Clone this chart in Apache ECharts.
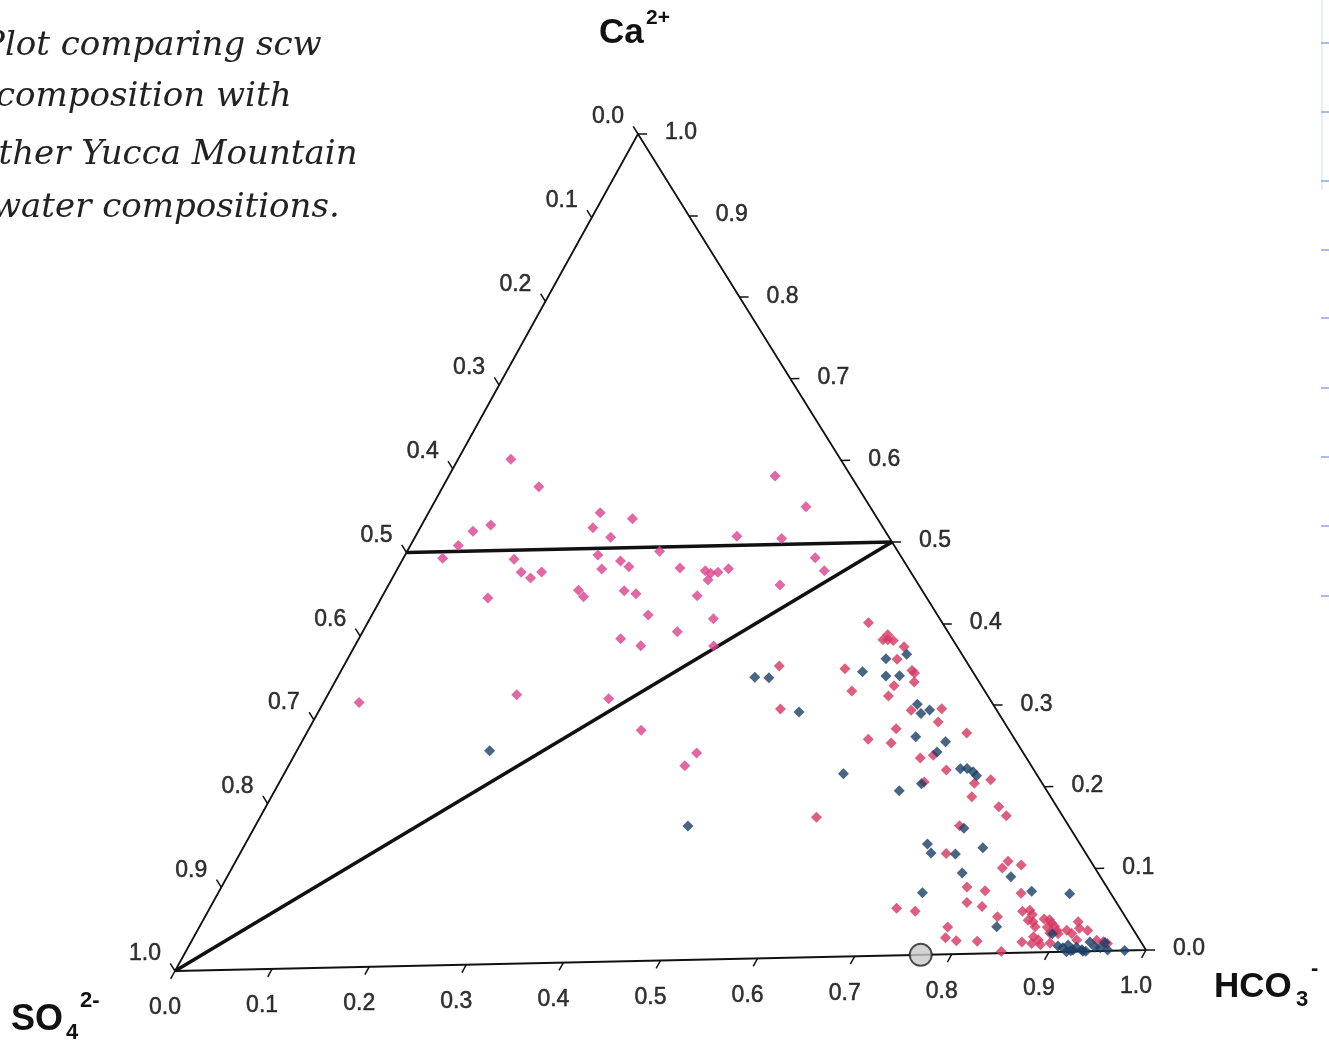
<!DOCTYPE html>
<html><head><meta charset="utf-8">
<script src="https://cdn.jsdelivr.net/npm/echarts@6/dist/echarts.min.js"></script>
<style>html,body{margin:0;padding:0;background:#fff;overflow:hidden}#c{width:1329px;height:1044px}</style>
</head><body><div id="c"></div>
<script>
// ---------- DATA (ternary fractions; SO4 = 1 - HCO3 - Ca) ----------
const tickValues = [0,0.1,0.2,0.3,0.4,0.5,0.6,0.7,0.8,0.9,1.0];
const tickLabels = ['0.0','0.1','0.2','0.3','0.4','0.5','0.6','0.7','0.8','0.9','1.0'];

// magenta samples (upper part of the diagram)
const magentaHCO3 = [0.055,0.100,0.340,0.390,0.179,0.216,0.180,0.204,0.072,0.057,0.050,0.041,0.116,0.131,0.144,0.152,0.201,0.213,0.228,0.240,0.263,0.335,0.383,0.294,0.322,0.329,0.336,0.345,0.330,0.429,0.446,0.408,0.111,0.201,0.210,0.249,0.263,0.328,0.288,0.358,0.328,0.273,0.298,0.374,0.037,0.197,0.295,0.347,0.418,0.413];
const magentaCa   = [0.610,0.576,0.583,0.545,0.543,0.535,0.525,0.513,0.531,0.524,0.507,0.492,0.489,0.473,0.466,0.473,0.492,0.475,0.484,0.477,0.495,0.511,0.507,0.474,0.470,0.467,0.468,0.472,0.459,0.483,0.467,0.451,0.443,0.450,0.442,0.448,0.444,0.440,0.418,0.412,0.397,0.390,0.381,0.379,0.320,0.325,0.318,0.279,0.250,0.235];

// crimson samples (HCO3-rich part)
const crimsonHCO3 = [0.454,0.480,0.580,0.522,0.549,0.547,0.558,0.552,0.573,0.573,0.524,0.595,0.599,0.604,0.585,0.544,0.585,0.617,0.648,0.652,0.612,0.589,0.615,0.688,0.666,0.654,0.688,0.725,0.740,0.672,0.730,0.764,0.777,0.734,0.736,0.805,0.803,0.821,0.777,0.798,0.837,0.716,0.737,0.786,0.804,0.826,0.780,0.784,0.797,0.819,0.850,0.866,0.849,0.856,0.861,0.860,0.866,0.871,0.876,0.882,0.886,0.891,0.884,0.896,0.890,0.899,0.906,0.913,0.913,0.918,0.928,0.875,0.882,0.877,0.887,0.896,0.922,0.943,0.951,0.956];
const crimsonCa   = [0.353,0.301,0.169,0.403,0.388,0.382,0.381,0.382,0.373,0.358,0.348,0.344,0.341,0.330,0.326,0.321,0.314,0.296,0.297,0.281,0.274,0.262,0.257,0.267,0.241,0.238,0.223,0.206,0.210,0.209,0.190,0.177,0.166,0.155,0.122,0.111,0.103,0.106,0.081,0.076,0.072,0.057,0.053,0.062,0.057,0.044,0.033,0.020,0.016,0.015,0.002,0.013,0.050,0.051,0.046,0.039,0.037,0.031,0.040,0.039,0.035,0.031,0.030,0.026,0.023,0.022,0.026,0.022,0.036,0.028,0.025,0.019,0.015,0.011,0.009,0.011,0.014,0.013,0.011,0.009];

// dark blue samples
const blueHCO3 = [0.201,0.451,0.435,0.450,0.501,0.544,0.561,0.580,0.571,0.585,0.620,0.629,0.636,0.637,0.671,0.668,0.702,0.709,0.717,0.723,0.583,0.670,0.651,0.740,0.711,0.720,0.746,0.771,0.764,0.817,0.734,0.847,0.888,0.831,0.893,0.906,0.912,0.916,0.924,0.926,0.933,0.938,0.937,0.945,0.951,0.953,0.960,0.918,0.935,0.978,0.922];
const blueCa   = [0.258,0.162,0.340,0.339,0.297,0.344,0.359,0.364,0.338,0.338,0.303,0.292,0.296,0.264,0.257,0.245,0.224,0.224,0.220,0.215,0.221,0.207,0.199,0.152,0.134,0.123,0.121,0.128,0.098,0.092,0.075,0.074,0.070,0.032,0.022,0.007,0.005,0.008,0.002,0.005,0.002,0.000,0.011,0.005,0.004,0.010,0.001,0.000,0.000,0.000,0.001];

// SCW composition (grey circle)
const scwHCO3 = [0.768];
const scwCa   = [0.000];

// reference lines
const caLineHCO3 = [0.0, 0.5];
const caLineCa   = [0.5, 0.5];
const diagHCO3   = [0.0, 0.5];
const diagCa     = [0.0, 0.5];

// ---------- LAYOUT ----------
const W = 1329, H = 1044;
const FRAME = { top:[638,134], left:[175,971], right:[1146,950] };  // triangle corners (scan is slightly rotated)
const TICK_LEN = 9;

function toXY(h, c) {
  const L = FRAME.left, R = FRAME.right, T = FRAME.top;
  return [L[0] + h*(R[0]-L[0]) + c*(T[0]-L[0]),
          L[1] + h*(R[1]-L[1]) + c*(T[1]-L[1])];
}
function unit(a, b) { const dx=b[0]-a[0], dy=b[1]-a[1], n=Math.hypot(dx,dy); return [dx/n, dy/n]; }
const dirBottom = unit(FRAME.top, FRAME.left);   // bottom-axis ticks: down-left
const dirLeft   = unit(FRAME.right, FRAME.top);  // left-axis ticks: up-left
const dirRight  = unit(FRAME.left, FRAME.right); // right-axis ticks: to the right

const ticks = [], labels = [];
tickValues.forEach((t, i) => {
  // bottom axis: HCO3 fraction
  let p = toXY(t, 0);
  ticks.push({coords:[p, [p[0]+TICK_LEN*dirBottom[0], p[1]+TICK_LEN*dirBottom[1]]]});
  labels.push({name: tickLabels[i], value:[p[0]-10, p[1]+37]});
  // left axis: SO4 fraction
  p = toXY(0, 1 - t);
  ticks.push({coords:[p, [p[0]+TICK_LEN*dirLeft[0], p[1]+TICK_LEN*dirLeft[1]]]});
  labels.push({name: tickLabels[i], value:[p[0]-30, p[1]-17]});
  // right axis: Ca fraction
  p = toXY(1 - t, t);
  ticks.push({coords:[p, [p[0]+TICK_LEN*dirRight[0], p[1]+TICK_LEN*dirRight[1]]]});
  labels.push({name: tickLabels[i], value:[p[0]+43, p[1]-1]});
});

const pts = (hs, cs) => hs.map((h, i) => toXY(h, cs[i]));

const chart = echarts.init(document.getElementById('c'), null, {renderer:'canvas'});
const sans = '"Liberation Sans", Arial, Helvetica, sans-serif';
const hand = '"DejaVu Serif", serif';

// faint notebook-paper marks at the right edge of the scan
const paperMarks = [43,112,181,250,318,388,457,526,596].map(y => ({
  type:'line', shape:{x1:1321, y1:y, x2:1329, y2:y}, style:{stroke:'#5d86e0', lineWidth:2, opacity:0.55}, silent:true
}));
paperMarks.push({type:'line', shape:{x1:1322, y1:0, x2:1322, y2:190}, style:{stroke:'#9fb4ea', lineWidth:1, opacity:0.5}, silent:true});

function txt(text, x, y, font, fill) {
  return {type:'text', x:x, y:y, silent:true,
          style:{text:text, font:font, fill:fill||'#111', align:'left', verticalAlign:'middle'}};
}

chart.setOption({
  animation:false,
  backgroundColor:'#ffffff',
  grid:{left:0, right:0, top:0, bottom:0},
  xAxis:{type:'value', min:0, max:W, show:false},
  yAxis:{type:'value', min:0, max:H, inverse:true, show:false},
  series:[
    {type:'line', name:'frame', data:[toXY(0,0), toXY(1,0), toXY(0,1), toXY(0,0)],
     symbol:'none', lineStyle:{color:'#111', width:1.8}, silent:true, z:2},
    {type:'lines', name:'ticks', coordinateSystem:'cartesian2d', data:ticks,
     lineStyle:{color:'#111', width:1.5, opacity:1}, silent:true, z:2},
    {type:'line', name:'Ca 0.5', data:pts(caLineHCO3, caLineCa),
     symbol:'none', lineStyle:{color:'#111', width:3.6}, silent:true, z:3},
    {type:'line', name:'diagonal', data:pts(diagHCO3, diagCa),
     symbol:'none', lineStyle:{color:'#111', width:3.6}, silent:true, z:3},
    {type:'scatter', name:'magenta', data:pts(magentaHCO3, magentaCa),
     symbol:'diamond', symbolSize:11, itemStyle:{color:'#d9428e'}, z:5},
    {type:'scatter', name:'crimson', data:pts(crimsonHCO3, crimsonCa),
     symbol:'diamond', symbolSize:11, itemStyle:{color:'#d63660'}, z:5},
    {type:'scatter', name:'blue', data:pts(blueHCO3, blueCa),
     symbol:'diamond', symbolSize:11, itemStyle:{color:'#1a3e64'}, z:6},
    {type:'scatter', name:'SCW', data:pts(scwHCO3, scwCa),
     symbol:'circle', symbolSize:22, itemStyle:{color:'#c8c8c8', borderColor:'#222', borderWidth:2}, z:7},
    {type:'scatter', name:'tick labels', data:labels, symbolSize:1,
     itemStyle:{color:'transparent'}, silent:true, z:4,
     label:{show:true, position:'inside', formatter:'{b}', color:'#000',
            textBorderColor:'#000', textBorderWidth:0.5,
            fontSize:23, fontFamily:sans}}
  ],
  graphic:[
    txt('Ca', 599, 33, 'bold 35px ' + sans),
    txt('2+', 646, 18, 'bold 21px ' + sans),
    txt('SO', 11, 1020, 'bold 36px ' + sans),
    txt('4', 66, 1033, 'bold 22px ' + sans),
    txt('2-', 80, 1001, 'bold 22px ' + sans),
    txt('HCO', 1214, 987, 'bold 35px ' + sans),
    txt('3', 1296, 1000, 'bold 22px ' + sans),
    txt('-', 1311, 969, 'bold 22px ' + sans),
    txt('Plot comparing scw', -18, 46, 'italic 34px ' + hand, '#222'),
    txt('composition with', -4, 97, 'italic 34px ' + hand, '#222'),
    txt('other Yucca Mountain', -22, 155, 'italic 34px ' + hand, '#222'),
    txt('water compositions.', -8, 208, 'italic 34px ' + hand, '#222')
  ].concat(paperMarks)
});
</script>
</body></html>
